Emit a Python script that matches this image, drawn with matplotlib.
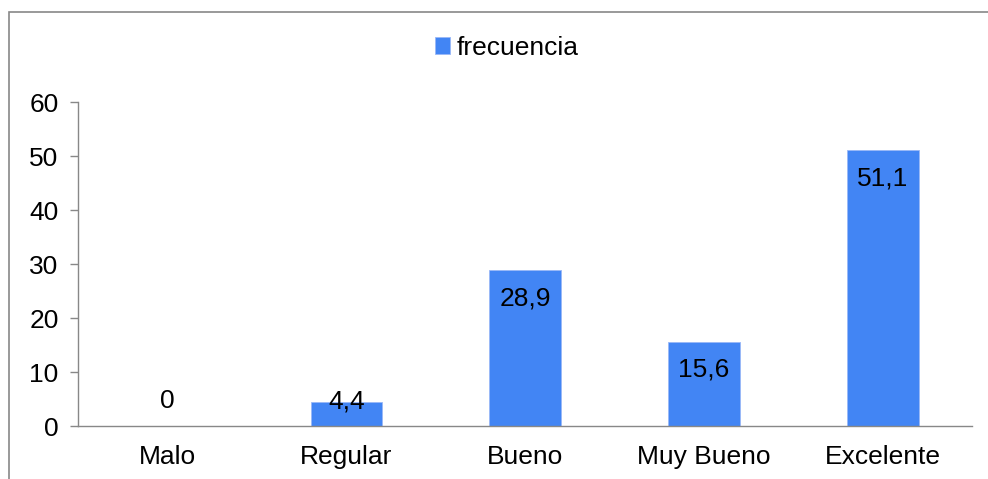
import matplotlib.pyplot as plt
from matplotlib.patches import Rectangle

categories = ["Malo", "Regular", "Bueno", "Muy Bueno", "Excelente"]
frecuencia = [0, 4.4, 28.9, 15.6, 51.1]
value_labels = ["0", "4,4", "28,9", "15,6", "51,1"]
yticks = [0, 10, 20, 30, 40, 50, 60]

plt.rcParams["font.family"] = ["Liberation Sans", "DejaVu Sans"]
fs = 19

fig = plt.figure(figsize=(9.88, 4.79), dpi=100)
ax = fig.add_axes([0.079, 0.1106, 0.905, 0.6764])

blue = "#4285F4"
x = range(len(categories))
ax.bar(x, frecuencia, width=0.4, color=blue, edgecolor="#9ab8f7", linewidth=0.6,
       label="frecuencia")

for xi, v, lab in zip(x, frecuencia, value_labels):
    yc = max(v - 5.2, 4.6)
    ax.text(xi, yc, lab, ha="center", va="center", fontsize=fs, color="black")

ax.set_xlim(-0.5, len(categories) - 0.5)
ax.set_ylim(0, 60)
ax.set_yticks(yticks)
ax.set_xticks(list(x))
ax.set_xticklabels(categories)
ax.tick_params(axis="y", labelsize=fs, length=6, color="#888888", width=1, pad=8)
ax.tick_params(axis="x", labelsize=fs, length=0, pad=14)

for s in ["top", "right"]:
    ax.spines[s].set_visible(False)
for s in ["left", "bottom"]:
    ax.spines[s].set_color("#888888")
    ax.spines[s].set_linewidth(1)

fig.legend(loc="center", bbox_to_anchor=(0.513, 0.9), frameon=False, fontsize=fs,
           handlelength=0.6, handleheight=0.6, handletextpad=0.25)

# outer chart border
fig.patches.append(Rectangle((8.5 / 988, -0.1), 1.2, 1 - 11.5 / 479 + 0.1,
                             transform=fig.transFigure, fill=False,
                             edgecolor="#888888", linewidth=1.2))

fig.savefig("out.png", dpi=100)
